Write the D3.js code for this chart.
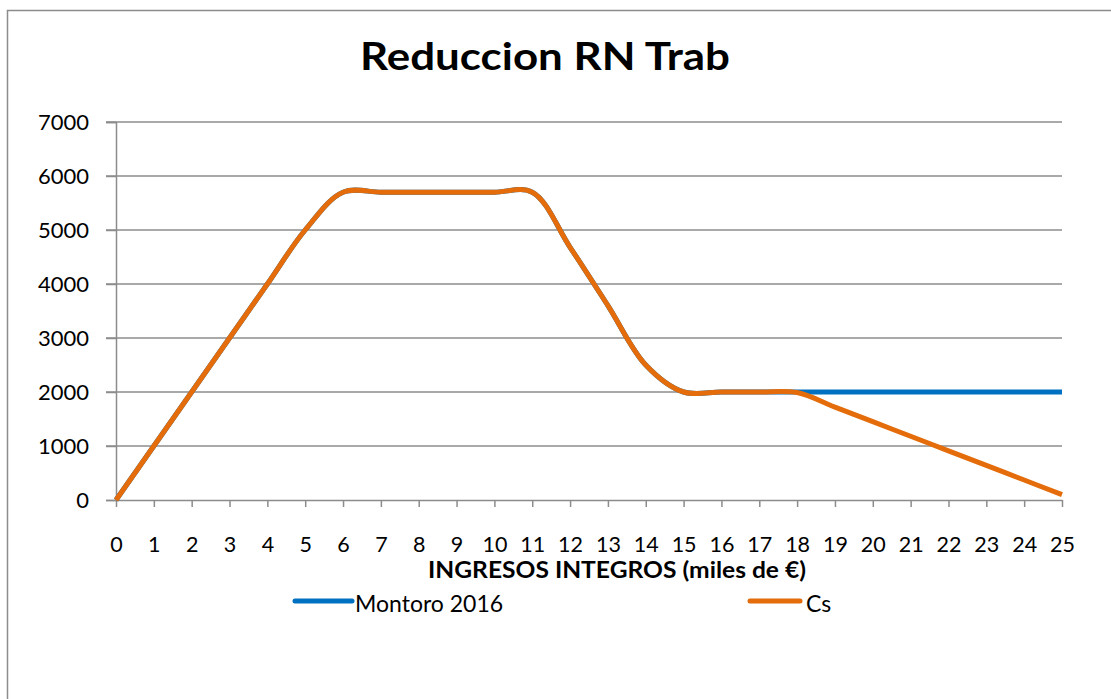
<!DOCTYPE html>
<html>
<head>
<meta charset="utf-8">
<script src="https://cdn.jsdelivr.net/npm/d3@7"></script>
<style>
  body { margin: 0; background: #fff; }
  text { font-family: Lato, "Open Sans", sans-serif; fill: #000; }
</style>
</head>
<body>
<div class="chart"></div>
<script>
'use strict';

const ingresos = d3.range(0, 26);
const montoro = [0, 1000, 2000, 3000, 4000, 5000, 5700, 5700, 5700, 5700, 5700, 5700,
  4680, 3600, 2500, 2000, 2000, 2000, 2000, 2000, 2000, 2000, 2000, 2000, 2000, 2000];
const cs = [0, 1000, 2000, 3000, 4000, 5000, 5700, 5700, 5700, 5700, 5700, 5700,
  4680, 3600, 2500, 2000, 2000, 2000, 1990, 1720, 1450, 1180, 910, 640, 370, 100];
const yTicks = [0, 1000, 2000, 3000, 4000, 5000, 6000, 7000];
const seriesNames = ['Montoro 2016', 'Cs'];
const colors = ['#0070c0', '#e46c0a'];

const width = 1111;
const height = 699;
const plot = {left: 116, right: 1062, top: 122, bottom: 500};

const svg = d3.select('.chart').append('svg')
  .attr('width', width)
  .attr('height', height);

// outer frame (cut by the window on right and bottom)
svg.append('rect')
  .attr('x', 7.5).attr('y', 10.5)
  .attr('width', 1200).attr('height', 800)
  .attr('fill', 'none')
  .attr('stroke', '#8c8c8c')
  .attr('stroke-width', 1.5);

const xScale = d3.scaleLinear()
  .domain([0, 25])
  .range([plot.left, plot.right]);

const yScale = d3.scaleLinear()
  .domain([0, 7000])
  .range([plot.bottom, plot.top]);

// gridlines
svg.append('g')
  .selectAll('line')
  .data(yTicks.filter(d => d > 0))
  .join('line')
  .attr('x1', plot.left - 10)
  .attr('x2', plot.right)
  .attr('y1', d => yScale(d))
  .attr('y2', d => yScale(d))
  .attr('stroke', '#8c8c8c')
  .attr('stroke-width', 1.5);

// y axis
const yAxis = svg.append('g')
  .attr('transform', `translate(${plot.left},0)`)
  .call(d3.axisLeft(yScale).tickValues(yTicks).tickSize(10).tickPadding(17).tickFormat(d3.format('d')));
yAxis.select('.domain').attr('stroke', '#8c8c8c').attr('stroke-width', 1.5);
yAxis.selectAll('.tick line').attr('stroke', '#8c8c8c').attr('stroke-width', 1.5);
yAxis.selectAll('.tick text')
  .attr('font-size', 22)
  .attr('font-family', 'Lato, sans-serif')
  .attr('fill', '#000');

// x axis
const xAxis = svg.append('g')
  .attr('transform', `translate(0,${plot.bottom})`)
  .call(d3.axisBottom(xScale).tickValues(ingresos).tickSize(7).tickSizeOuter(0).tickPadding(30).tickFormat(d3.format('d')));
xAxis.select('.domain').attr('stroke', '#8c8c8c').attr('stroke-width', 1.5);
xAxis.selectAll('.tick line').attr('stroke', '#8c8c8c').attr('stroke-width', 1.5);
xAxis.selectAll('.tick text')
  .attr('font-size', 21.5)
  .attr('font-family', 'Lato, sans-serif')
  .attr('fill', '#000');

// lines, smoothed like the spreadsheet's "smoothed line"
const line = d3.line()
  .x((d, i) => xScale(ingresos[i]))
  .y(d => yScale(d))
  .curve(d3.curveCatmullRom.alpha(0.5));

[montoro, cs].forEach((values, i) => {
  svg.append('path')
    .datum(values)
    .attr('d', line)
    .attr('fill', 'none')
    .attr('stroke', colors[i])
    .attr('stroke-width', 5)
    .attr('stroke-linejoin', 'round');
});

// title
svg.append('text')
  .attr('x', 545)
  .attr('y', 70)
  .attr('text-anchor', 'middle')
  .attr('font-size', 38)
  .attr('font-weight', 'bold')
  .attr('textLength', 370)
  .attr('lengthAdjust', 'spacingAndGlyphs')
  .text('Reduccion RN Trab');

// x axis title
svg.append('text')
  .attr('x', 617)
  .attr('y', 578)
  .attr('text-anchor', 'middle')
  .attr('font-size', 22.5)
  .attr('font-weight', 'bold')
  .attr('textLength', 378)
  .attr('lengthAdjust', 'spacingAndGlyphs')
  .text('INGRESOS INTEGROS (miles de €)');

// legend
const legendX = [295, 750];
const legend = svg.append('g')
  .selectAll('g')
  .data(seriesNames)
  .join('g')
  .attr('transform', (d, i) => `translate(${legendX[i]},601)`);

legend.append('line')
  .attr('x1', 0).attr('x2', (d, i) => i === 0 ? 57 : 50)
  .attr('y1', 0).attr('y2', 0)
  .attr('stroke', (d, i) => colors[i])
  .attr('stroke-width', 5)
  .attr('stroke-linecap', 'round');

legend.append('text')
  .attr('x', (d, i) => i === 0 ? 60 : 56)
  .attr('y', 11)
  .attr('font-size', 23)
  .text(d => d);
</script>
</body>
</html>
